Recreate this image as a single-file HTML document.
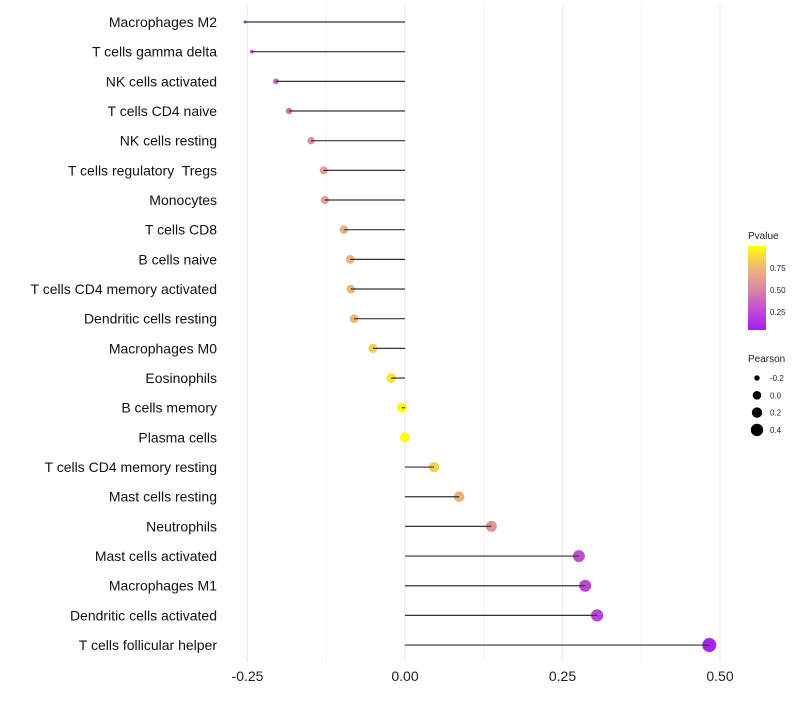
<!DOCTYPE html>
<html><head><meta charset="utf-8"><style>
body{margin:0;background:#fff;font-family:"Liberation Sans",sans-serif}
text{white-space:pre}
</style></head><body>
<svg id="c" width="800" height="700" xmlns="http://www.w3.org/2000/svg"></svg>
<script>
const categories=["Macrophages M2","T cells gamma delta","NK cells activated","T cells CD4 naive","NK cells resting","T cells regulatory  Tregs","Monocytes","T cells CD8","B cells naive","T cells CD4 memory activated","Dendritic cells resting","Macrophages M0","Eosinophils","B cells memory","Plasma cells","T cells CD4 memory resting","Mast cells resting","Neutrophils","Mast cells activated","Macrophages M1","Dendritic cells activated","T cells follicular helper"];
const pearson=[-0.254,-0.243,-0.205,-0.184,-0.149,-0.129,-0.127,-0.097,-0.087,-0.086,-0.081,-0.051,-0.022,-0.005,0.0,0.046,0.086,0.137,0.276,0.286,0.305,0.483];
const pvalues=[0.15,0.2,0.34,0.4,0.52,0.6,0.6,0.7,0.72,0.72,0.74,0.82,0.9,0.98,1.0,0.84,0.72,0.55,0.22,0.2,0.18,0.03];
const xTicks=[-0.25,0,0.25,0.5];
const xTickLabels=["-0.25","0.00","0.25","0.50"];
const pTicks=[0.25,0.5,0.75];
const sizeLegend=[-0.2,0,0.2,0.4];
const NS="http://www.w3.org/2000/svg",svg=document.getElementById('c');
const x=v=>405+v*630, y=i=>22+i*29.67;
const sizeKnots=[[-0.26,1.3],[-0.24,2],[-0.2,3],[-0.15,3.7],[-0.13,4],[0,5],[0.28,6],[0.5,7.1]];
function r(v){if(v<=sizeKnots[0][0])return sizeKnots[0][1];for(let k=1;k<sizeKnots.length;k++){if(v<=sizeKnots[k][0]){const a=sizeKnots[k-1],b=sizeKnots[k];return a[1]+(b[1]-a[1])*(v-a[0])/(b[0]-a[0]);}}return 7.1;}
const pyc=p=>334-p*88;
const stops=[[0,[160,32,240]],[0.3,[200,90,200]],[0.5,[218,138,160]],[0.75,[240,185,120]],[1,[255,255,0]]];
function col(p){for(let k=1;k<stops.length;k++){if(p<=stops[k][0]){const a=stops[k-1],b=stops[k],t=(p-a[0])/(b[0]-a[0]);return 'rgb('+a[1].map((c,j)=>Math.round(c+(b[1][j]-c)*t)).join(',')+')';}}return 'rgb(255,255,0)';}
function el(t,a,txt){const e=document.createElementNS(NS,t);for(const k in a)e.setAttribute(k,a[k]);if(txt!=null)e.textContent=txt;svg.appendChild(e);return e;}
[-0.125,0.125,0.375].forEach(v=>{const g=el('line',{x1:x(v),x2:x(v),y1:5,y2:662,stroke:'#f4f4f4','stroke-width':1});

});
xTicks.forEach((v,i)=>{const g=el('line',{x1:x(v),x2:x(v),y1:5,y2:662,stroke:'#ebebeb','stroke-width':1.2});


const t=el('text',{x:x(v),y:681,'text-anchor':'middle','font-size':14,fill:'#222'},xTickLabels[i]);

});
categories.forEach((c,i)=>{const t=el('text',{x:217,y:y(i)+5,'text-anchor':'end','font-size':14,fill:'#111'},c);


const d=el('circle',{cx:x(pearson[i]),cy:y(i),r:r(pearson[i]),fill:col(pvalues[i])});


const l=el('line',{x1:x(0),x2:x(pearson[i]),y1:y(i),y2:y(i),stroke:'#333','stroke-width':1.2});

});
const lt=el('text',{x:748,y:239,'font-size':10,fill:'#222'},'Pvalue');


const defs=el('defs',{});const lg=document.createElementNS(NS,'linearGradient');lg.setAttribute('id','g');lg.setAttribute('x1',0);lg.setAttribute('y1',1);lg.setAttribute('x2',0);lg.setAttribute('y2',0);defs.appendChild(lg);
stops.forEach(s=>{const st=document.createElementNS(NS,'stop');st.setAttribute('offset',s[0]);st.setAttribute('stop-color',col(s[0]));lg.appendChild(st);});
const cb=el('rect',{x:748,y:246,width:18,height:84,fill:'url(#g)'});


pTicks.forEach(p=>{const t=el('text',{x:770,y:pyc(p)+3,'font-size':8,fill:'#222'},p.toFixed(2));

});
const st2=el('text',{x:748,y:362,'font-size':10,fill:'#222'},'Pearson');


const legendR=[2.7,4.3,5.2,6.2];
sizeLegend.forEach((v,i)=>{const cy=378+i*17.3;const d=el('circle',{cx:757,cy:cy,r:legendR[i],fill:'#000'});


const t=el('text',{x:770,y:cy+3,'font-size':8,fill:'#222'},v.toFixed(1));

});
</script>
</body></html>
